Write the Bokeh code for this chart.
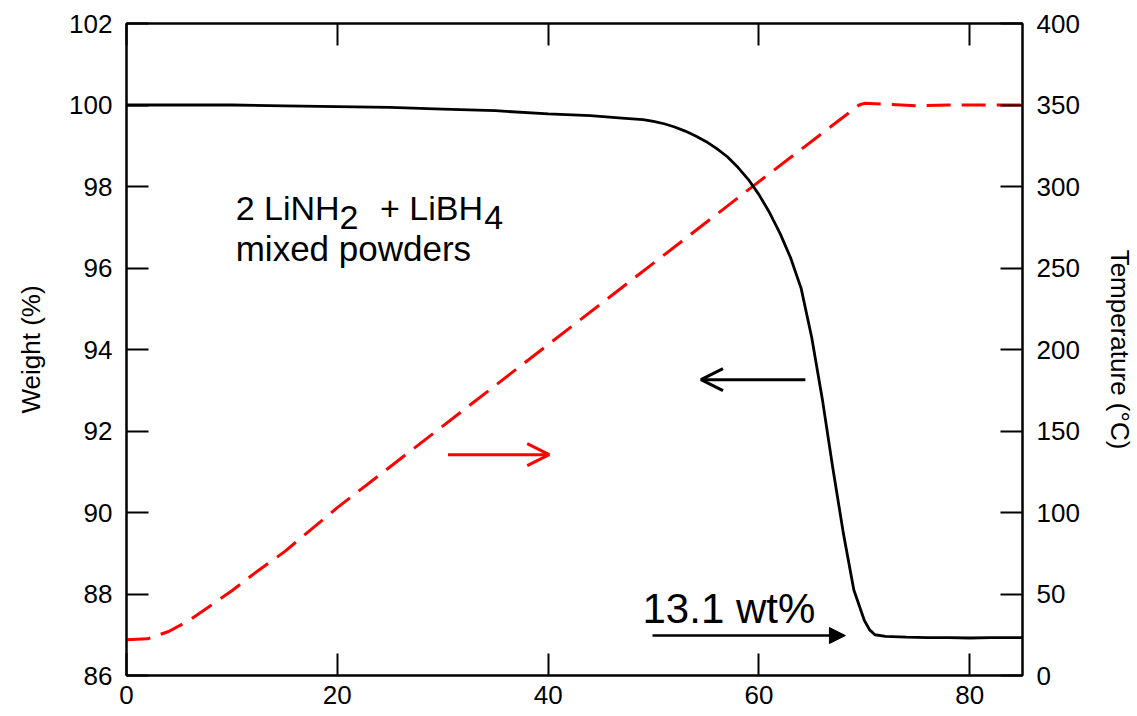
from bokeh.plotting import figure
from bokeh.models import Range1d, LinearAxis, Label, Arrow, OpenHead, NormalHead, FixedTicker
from bokeh.embed import file_html
from bokeh.resources import INLINE

# ---- data ----
time_w = [0, 5, 10, 15, 20, 25, 30, 35, 40, 44, 47, 49, 50, 51, 52, 53, 54, 55, 56, 57,
          58, 59, 60, 61, 62, 63, 64, 65, 66, 67, 68, 69, 70, 70.5, 71, 72, 74, 76, 78,
          80, 82, 85]
weight = [100.0, 100.0, 100.0, 99.98, 99.96, 99.94, 99.9, 99.86, 99.78, 99.74, 99.68,
          99.64, 99.6, 99.54, 99.46, 99.36, 99.24, 99.1, 98.93, 98.73, 98.47, 98.17, 97.8,
          97.36, 96.85, 96.25, 95.5, 94.3, 92.8, 91.1, 89.5, 88.1, 87.35, 87.12, 87.0,
          86.96, 86.94, 86.93, 86.93, 86.92, 86.93, 86.93]
time_t = [0, 2, 4, 6, 8, 10, 12, 15, 20, 30, 40, 50, 60, 69.5, 70, 72, 75, 78, 80, 85]
temp = [22, 22.5, 27, 34, 43, 52, 62, 76, 103, 153, 203, 253, 303, 350, 351, 350.5,
        349.5, 350, 350, 350]
x_ticks = [0, 20, 40, 60, 80]
w_ticks = [86, 88, 90, 92, 94, 96, 98, 100, 102]
t_ticks = [0, 50, 100, 150, 200, 250, 300, 350, 400]

FONT = "Liberation Sans"

p = figure(width=1137, height=716, output_backend="svg", toolbar_location=None,
           x_range=Range1d(0, 85), y_range=Range1d(86, 102),
           min_border_left=126, min_border_right=115, min_border_top=23,
           min_border_bottom=41)
p.extra_y_ranges = {"temp": Range1d(0, 400)}
p.grid.visible = False
p.outline_line_color = "black"
p.outline_line_width = 2
p.background_fill_color = "white"
p.border_fill_color = "white"


def style_axis(ax, show_labels=True):
    ax.axis_line_width = 2
    ax.axis_line_color = "black"
    ax.major_tick_in = 22
    ax.major_tick_out = 0
    ax.major_tick_line_width = 2
    ax.major_tick_line_color = "black"
    ax.minor_tick_line_color = None
    ax.major_label_text_font = FONT
    ax.major_label_text_font_size = "26px" if show_labels else "1px"
    ax.major_label_text_color = "black" if show_labels else None
    ax.axis_label_text_font = FONT
    ax.axis_label_text_font_size = "26px"
    ax.axis_label_text_font_style = "normal"
    ax.axis_label_text_color = "black"


xa = p.xaxis[0]
xa.ticker = FixedTicker(ticks=x_ticks)
style_axis(xa)
xa.major_label_standoff = 10

ya = p.yaxis[0]
ya.ticker = FixedTicker(ticks=w_ticks)
style_axis(ya)
ya.axis_label = "Weight (%)"
ya.major_label_standoff = 14
ya.axis_label_standoff = 20

ra = LinearAxis(y_range_name="temp", ticker=FixedTicker(ticks=t_ticks))
style_axis(ra)
ra.axis_label = "Temperature (°C)"
ra.major_label_standoff = 14
ra.axis_label_standoff = 22
p.add_layout(ra, "right")

ta = LinearAxis(ticker=FixedTicker(ticks=x_ticks))
style_axis(ta, show_labels=False)
p.add_layout(ta, "above")

# ---- curves ----
p.line(time_t, temp, y_range_name="temp", line_color="#ff0000", line_width=3,
       line_dash="24 11")
p.line(time_w, weight, line_color="black", line_width=2.8)

# ---- annotations ----
def lab(x, y, text, size):
    p.add_layout(Label(x=x, y=y, text=text, text_font=FONT, text_font_size=size,
                       text_color="black", text_baseline="alphabetic",
                       text_align="left"))

lab(10.36, 97.48, "2 LiNH", "34px")
lab(20.2, 97.24, "2", "34px")
lab(24.05, 97.48, "+ LiBH", "34px")
lab(33.95, 97.24, "4", "34px")
lab(10.36, 96.48, "mixed powders", "35px")
lab(48.95, 87.64, "13.1 wt%", "42px")

p.add_layout(Arrow(end=NormalHead(size=16, fill_color="black", line_color="black"),
                   x_start=49.9, y_start=86.98, x_end=68.2, y_end=86.98,
                   line_color="black", line_width=2.5))
p.add_layout(Arrow(end=OpenHead(size=22, line_color="#ff0000", line_width=3),
                   x_start=30.5, y_start=91.42, x_end=40.1, y_end=91.42,
                   line_color="#ff0000", line_width=3))
p.add_layout(Arrow(end=OpenHead(size=22, line_color="black", line_width=3),
                   x_start=64.4, y_start=93.26, x_end=54.5, y_end=93.26,
                   line_color="black", line_width=3))

open("out.html", "w").write(file_html(p, INLINE))
